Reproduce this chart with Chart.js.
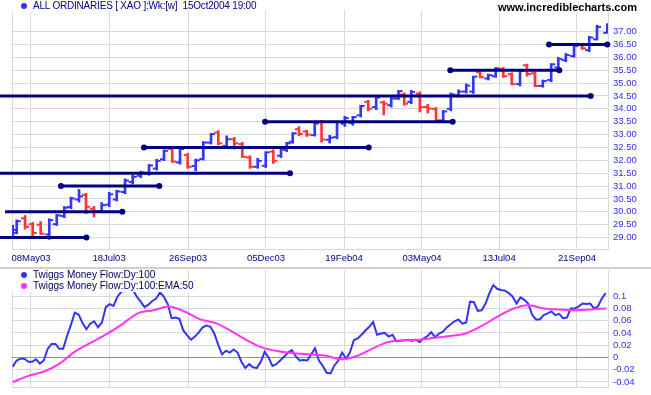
<!DOCTYPE html>
<html>
<head>
<meta charset="utf-8">
<title>ALL ORDINARIES [ XAO ] weekly</title>
<script src="https://cdn.jsdelivr.net/npm/chart.js@4.4.1/dist/chart.umd.min.js"></script>
<style>
  body { margin: 0; background: #fff; }
  #wrap { position: relative; width: 651px; height: 395px; overflow: hidden; background: #fff;
          font-family: "Liberation Sans", Arial, sans-serif; }
  canvas { position: absolute; left: 0; }
  #price { top: 0; }
  #flow { top: 269px; }
  .split { position: absolute; left: 0; top: 267px; width: 651px; height: 2px; background: #d4d0c8; }
  .dot { position: absolute; width: 6px; height: 6px; border-radius: 50%; }
  .txt { position: absolute; white-space: pre; line-height: 12px; background: #fff; }
</style>
</head>
<body>
<div id="wrap">
  <canvas id="price" width="651" height="267"></canvas>
  <div class="split"></div>
  <canvas id="flow" width="651" height="126"></canvas>

  <div class="txt" style="left:12px;top:0;padding-left:21px;font-size:10px;letter-spacing:-0.2px;color:#000080">ALL ORDINARIES [ XAO ]:Wk:[w]  15Oct2004 19:00</div>
  <div class="dot" style="left:21px;top:3px;background:#3333ff"></div>
  <div class="txt" style="left:498px;top:1px;font-size:11px;font-weight:bold;color:#000">www.incrediblecharts.com</div>

  <div class="txt" style="left:12px;top:269px;padding-left:21px;font-size:10px;color:#000060">Twiggs Money Flow:Dy:100</div>
  <div class="txt" style="left:12px;top:280px;padding-left:21px;font-size:10px;color:#000060">Twiggs Money Flow:Dy:100:EMA:50</div>
  <div class="dot" style="left:21px;top:272px;background:#3333ff"></div>
  <div class="dot" style="left:21px;top:283px;background:#ff33ff"></div>
</div>

<script>
/* ALL ORDINARIES weekly bars + Twiggs Money Flow */

const NAVY = "#000080";
const BAR_UP = "#3434ff";
const BAR_DOWN = "#ff3434";
const GRID = "#d8d8d8";
const ZERO_LINE = "#8c8cc4";
const TICK_BLUE = "#3030f0";

// position on the chart's time axis, in weeks from the left edge
const WEEK_POS = [0.09, 0.61, 1.68, 2.67, 3.70, 4.81, 5.77, 6.75, 7.61, 8.65,
  9.55, 10.58, 11.57, 12.55, 13.51, 14.58, 15.57, 16.61, 17.68, 18.67,
  19.61, 20.68, 21.68, 22.67, 23.70, 24.68, 25.68, 26.62, 27.70, 28.68,
  29.72, 30.71, 31.70, 32.74, 33.72, 34.71, 35.45, 36.22, 37.03, 38.03,
  39.06, 39.94, 40.99, 41.94, 42.94, 43.97, 44.99, 45.96, 46.99, 47.96,
  48.93, 49.87, 50.61, 51.51, 52.62, 53.65, 54.71, 55.64, 56.62, 57.61,
  58.61, 59.52, 60.39, 61.46, 62.41, 63.39, 64.48, 65.55, 66.45, 67.48,
  68.49, 69.57, 70.49, 71.46, 72.52, 73.55, 74.48, 75.48, 76.81];

const OPEN = [29.02, 29.18, 29.75, 29.52, 29.5, 29.12, 29.52, 29.84, 30.19, 30.48,
  30.66, 30.12, 30.02, 30.28, 30.48, 30.77, 31.16, 31.4, 31.48, 31.68,
  32.04, 32.44, 31.92, 32.21, 31.78, 32.05, 32.69, 33.08, 32.56, 32.82,
  32.63, 32.11, 31.75, 31.79, 32.34, 32.18, 32.4, 32.72, 33.21, 33.12,
  32.98, 33.49, 32.8, 32.9, 33.42, 33.45, 33.75, 34.27, 34.07, 34.25,
  34.14, 34.4, 34.56, 34.27, 34.59, 34.07, 34.0, 33.55, 34.0, 34.52,
  34.67, 34.67, 35.43, 35.18, 35.27, 35.55, 35.35, 34.96, 35.69, 35.38,
  34.89, 35.12, 35.61, 35.89, 36.05, 36.5, 36.28, 36.7, 36.95];

const HIGH = [29.48, 29.69, 29.86, 29.59, 29.62, 29.73, 29.9, 30.21, 30.57, 30.87,
  30.72, 30.21, 30.36, 30.76, 30.84, 31.28, 31.42, 31.58, 31.84, 32.04,
  32.41, 32.5, 32.5, 32.27, 32.05, 32.73, 33.05, 33.15, 32.95, 32.89,
  32.7, 32.18, 32.08, 32.34, 32.41, 32.53, 32.7, 33.08, 33.31, 33.18,
  33.48, 33.55, 32.97, 33.51, 33.71, 33.71, 34.14, 34.33, 34.49, 34.31,
  34.46, 34.72, 34.62, 34.72, 34.66, 34.18, 34.05, 33.94, 34.62, 34.74,
  34.97, 35.27, 35.48, 35.35, 35.61, 35.61, 35.4, 35.51, 35.74, 35.44,
  35.12, 35.76, 36.0, 36.15, 36.47, 36.54, 36.82, 37.25, 37.31];

const LOW = [28.98, 29.15, 29.33, 29.08, 29.12, 28.93, 29.47, 29.77, 30.12, 30.38,
  29.93, 29.8, 29.97, 30.2, 30.42, 30.7, 31.08, 31.33, 31.42, 31.62,
  31.99, 31.92, 31.85, 31.69, 31.59, 32.01, 32.63, 32.6, 32.5, 32.44,
  32.11, 31.69, 31.69, 31.72, 31.88, 32.11, 32.34, 32.66, 32.95, 32.93,
  32.94, 32.71, 32.67, 32.84, 33.32, 33.36, 33.68, 33.92, 33.97, 33.77,
  34.07, 34.36, 34.14, 34.2, 33.88, 33.84, 33.49, 33.49, 33.92, 34.46,
  34.61, 34.6, 35.2, 35.12, 35.22, 35.22, 34.93, 34.89, 35.27, 34.86,
  34.84, 35.05, 35.53, 35.83, 36.0, 36.31, 36.22, 36.67, 36.93];

const CLOSE = [29.3, 29.64, 29.42, 29.18, 29.15, 29.68, 29.86, 30.16, 30.52, 30.6,
  30.2, 30.02, 30.26, 30.68, 30.79, 31.22, 31.36, 31.53, 31.8, 31.98,
  32.37, 31.95, 32.44, 31.75, 32.0, 32.69, 33.02, 32.66, 32.82, 32.66,
  32.14, 31.75, 31.98, 32.31, 31.98, 32.46, 32.66, 33.05, 33.02, 33.0,
  33.43, 32.81, 32.88, 33.49, 33.64, 33.68, 34.11, 34.01, 34.44, 34.2,
  34.4, 34.69, 34.2, 34.66, 34.07, 34.01, 33.55, 33.9, 34.56, 34.67,
  34.9, 35.25, 35.23, 35.31, 35.57, 35.27, 34.96, 35.47, 35.35, 34.89,
  35.08, 35.73, 35.93, 36.09, 36.44, 36.35, 36.77, 37.18, 37.29];

// support / resistance lines: price, start and end week, dot at start?
const LEVELS = [29.0, 30.0, 31.0, 31.5, 32.5, 33.5, 34.5, 35.5, 36.5];
const LEVEL_FROM = [-1.55, -0.9, 6.32, -1.55, 17.03, 32.65, -1.55, 56.55, 69.29];
const LEVEL_TO = [9.6, 14.23, 19.0, 35.87, 46.03, 56.86, 74.67, 70.62, 76.81];
const LEVEL_DOT_LEFT = [false, true, true, false, true, true, false, true, true];

const TICK_POS = [2.45, 12.52, 22.71, 32.77, 42.84, 52.9, 62.84, 72.9];
const TICK_LABELS = ["08May03", "18Jul03", "26Sep03", "05Dec03", "19Feb04", "03May04", "13Jul04", "21Sep04"];
const PRICE_TICKS = [29, 29.5, 30, 30.5, 31, 31.5, 32, 32.5, 33, 33.5, 34, 34.5, 35, 35.5, 36, 36.5, 37];
const FLOW_TICKS = [-0.04, -0.02, 0, 0.02, 0.04, 0.06, 0.08, 0.1];

// Twiggs Money Flow (daily, sampled every half week)
const TMF = [-0.015, -0.005, -0.002, -0.002, -0.007, -0.007, -0.003, -0.010, -0.005, 0.014,
  0.022, 0.022, 0.014, 0.014, 0.035, 0.053, 0.073, 0.070, 0.056, 0.046,
  0.055, 0.059, 0.049, 0.057, 0.082, 0.087, 0.084, 0.099, 0.107, 0.109,
  0.111, 0.110, 0.099, 0.091, 0.082, 0.086, 0.092, 0.096, 0.106, 0.099,
  0.087, 0.064, 0.065, 0.063, 0.044, 0.036, 0.029, 0.034, 0.041, 0.049,
  0.052, 0.050, 0.039, 0.021, 0.005, 0.011, 0.008, 0.013, 0.008, -0.007,
  -0.017, -0.011, -0.016, -0.017, -0.007, 0.009, 0.000, -0.014, -0.011, -0.005,
  0.001, 0.008, 0.012, 0.002, -0.005, -0.004, -0.005, 0.005, 0.015, -0.005,
  -0.014, -0.025, -0.026, -0.013, -0.005, 0.008, -0.002, 0.008, 0.028, 0.031,
  0.037, 0.044, 0.050, 0.058, 0.037, 0.039, 0.040, 0.034, 0.037, 0.026,
  0.027, 0.028, 0.029, 0.027, 0.029, 0.025, 0.031, 0.035, 0.041, 0.033,
  0.039, 0.042, 0.049, 0.054, 0.059, 0.062, 0.055, 0.057, 0.091, 0.090,
  0.076, 0.077, 0.088, 0.105, 0.118, 0.112, 0.110, 0.109, 0.105, 0.099,
  0.088, 0.098, 0.094, 0.088, 0.070, 0.062, 0.062, 0.069, 0.072, 0.075,
  0.069, 0.071, 0.064, 0.065, 0.080, 0.080, 0.083, 0.088, 0.087, 0.088,
  0.080, 0.083, 0.096, 0.105];
const TMF_EMA = [-0.040, -0.030, -0.023, -0.010, 0.010, 0.024, 0.038, 0.054, 0.072, 0.077,
  0.083, 0.075, 0.062, 0.056, 0.043, 0.028, 0.016, 0.010, 0.007, 0.005,
  0.003, -0.003, 0.002, 0.014, 0.025, 0.028, 0.029, 0.032, 0.035, 0.039,
  0.051, 0.066, 0.079, 0.085, 0.080, 0.078, 0.077, 0.078, 0.080];
const TMF_START = 0.1;
const TMF_STEP = 0.5;
const EMA_STEP = 2.015;

const X_MIN = 0;
const X_MAX = 76.9;
const TICK_DX = 0.32; // open/close tick offset from the bar, in weeks

Chart.defaults.font.family = '"Liberation Sans", Arial, sans-serif';
Chart.defaults.font.size = 9.5;

function noPad(s) {
  s.paddingTop = 0; s.paddingBottom = 0; s.paddingLeft = 0; s.paddingRight = 0;
}

function xAxis(showLabels, height) {
  return {
    type: "linear", min: X_MIN, max: X_MAX, offset: false,
    afterBuildTicks: (s) => { s.ticks = [X_MIN, ...TICK_POS].map((v) => ({ value: v })); },
    afterFit: (s) => { s.height = height; noPad(s); },
    grid: { color: GRID, drawTicks: false, offset: false },
    border: { display: true, color: GRID },
    ticks: {
      display: showLabels, autoSkip: false, maxRotation: 0, minRotation: 0, padding: 4, color: NAVY,
      callback: (v, i) => (i === 0 ? "" : TICK_LABELS[i - 1]),
    },
  };
}

/* ── price bars ── */
const barColors = CLOSE.map((c, i) => (i === 0 || c >= CLOSE[i - 1] ? BAR_UP : BAR_DOWN));

const levelSets = LEVELS.map((v, i) => ({
  type: "line",
  data: [{ x: LEVEL_FROM[i], y: v }, { x: LEVEL_TO[i], y: v }],
  borderColor: NAVY,
  borderWidth: 3,
  pointRadius: [LEVEL_DOT_LEFT[i] ? 3 : 0, 3],
  pointBackgroundColor: NAVY,
  pointBorderWidth: 0,
  clip: false,
  order: 1,
}));

new Chart(document.getElementById("price"), {
  type: "bar",
  data: {
    datasets: [
      {
        type: "bar",
        data: WEEK_POS.map((x, i) => ({ x, y: [LOW[i], HIGH[i]] })),
        backgroundColor: barColors,
        borderWidth: 0,
        barThickness: 2,
        order: 3,
      },
      {
        type: "scatter",
        data: WEEK_POS.map((x, i) => ({ x: x - TICK_DX, y: OPEN[i] })),
        pointStyle: "line", pointRadius: 1.5, pointBorderWidth: 2, pointBorderColor: barColors,
        order: 2,
      },
      {
        type: "scatter",
        data: WEEK_POS.map((x, i) => ({ x: x + TICK_DX, y: CLOSE[i] })),
        pointStyle: "line", pointRadius: 1.5, pointBorderWidth: 2, pointBorderColor: barColors,
        order: 2,
      },
      ...levelSets,
    ],
  },
  options: {
    responsive: false,
    animation: false,
    events: [],
    layout: { padding: { left: 12, top: 10, right: 0, bottom: 0 } },
    plugins: { legend: { display: false }, tooltip: { enabled: false } },
    scales: {
      x: xAxis(true, 18),
      y: {
        type: "linear", position: "right", min: 28.557, max: 37.839,
        afterBuildTicks: (s) => { s.ticks = PRICE_TICKS.map((v) => ({ value: v })); },
        afterFit: (s) => { s.width = 43; noPad(s); },
        grid: { color: GRID, drawTicks: false },
        border: { display: true, color: GRID },
        ticks: { padding: 5, color: TICK_BLUE, callback: (v) => v.toFixed(2) },
      },
    },
  },
});

/* ── money flow ── */
new Chart(document.getElementById("flow"), {
  type: "line",
  data: {
    datasets: [
      {
        data: TMF.map((v, i) => ({ x: TMF_START + i * TMF_STEP, y: v })),
        borderColor: "#3434f4", borderWidth: 2, pointRadius: 0, tension: 0, order: 2,
      },
      {
        data: TMF_EMA.map((v, i) => ({ x: TMF_START + i * EMA_STEP, y: v })),
        borderColor: "#ff33ff", borderWidth: 2, pointRadius: 0, tension: 0.3, order: 1,
      },
    ],
  },
  options: {
    responsive: false,
    animation: false,
    events: [],
    layout: { padding: { left: 12, top: 1, right: 0, bottom: 0 } },
    plugins: { legend: { display: false }, tooltip: { enabled: false } },
    scales: {
      x: xAxis(false, 8),
      y: {
        type: "linear", position: "right", min: -0.0482, max: 0.1426,
        afterBuildTicks: (s) => { s.ticks = FLOW_TICKS.map((v) => ({ value: v })); },
        afterFit: (s) => { s.width = 43; noPad(s); },
        grid: { color: (ctx) => (ctx.tick && ctx.tick.value === 0 ? ZERO_LINE : GRID), drawTicks: false },
        border: { display: true, color: GRID },
        ticks: { padding: 5, color: TICK_BLUE, callback: (v) => String(+v.toFixed(2)) },
      },
    },
  },
});
</script>
</body>
</html>
